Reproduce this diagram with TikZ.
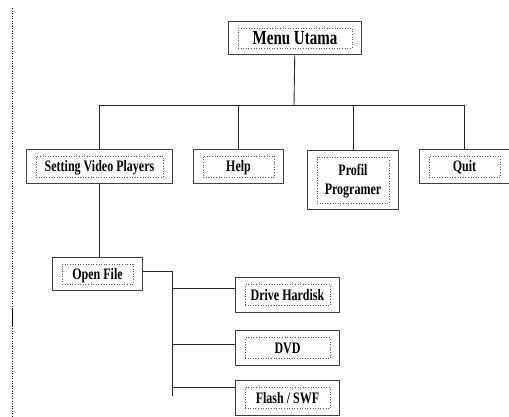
\documentclass[tikz,border=0pt]{standalone}
\usepackage{fontspec}
\setmainfont{Liberation Serif}[FakeStretch=0.75]
\usetikzlibrary{fit}
\begin{document}
\begin{tikzpicture}[x=1pt, y=-1pt, font=\fontsize{16}{19}\selectfont\bfseries, line join=round,
		inbox/.style={draw=black!65, dotted, line width=0.6pt, inner sep=0pt, minimum width=71pt, minimum height=21pt, align=center, text height=11pt, text depth=1pt},
		outbox/.style={draw=black!75, line width=1.1pt, inner xsep=9.5pt, inner ysep=6.5pt},
		link/.style={draw=black!85, line width=0.9pt}]
		\useasboundingbox (0,0) rectangle (509,416);
		\draw[dotted, line width=0.5pt] (12.5,8)--(12.5,416);
		\draw[line width=1.6pt] (12.5,308)--(12.5,326);
		\node[inbox, minimum width=114pt, minimum height=20pt, font=\fontsize{20}{24}\selectfont\bfseries, text height=14pt] (mu) at (295,38) {Menu Utama};
		\node[outbox, fit=(mu)] (mu-o) {};
		\node[inbox, minimum width=127pt] (svp) at (99.5,166.5) {Setting Video Players};
		\node[outbox, fit=(svp)] (svp-o) {};
		\node[inbox] (hlp) at (238.5,166.5) {Help};
		\node[outbox, fit=(hlp)] (hlp-o) {};
		\node[inbox, minimum width=72pt, minimum height=46pt, text height=] (pp) at (353,180) {Profil\\Programer};
		\node[outbox, fit=(pp)] (pp-o) {};
		\node[inbox] (qt) at (464.5,166.5) {Quit};
		\node[outbox, fit=(qt)] (qt-o) {};
		\node[inbox, minimum height=20pt] (of) at (97.5,274) {Open File};
		\node[outbox, fit=(of)] (of-o) {};
		\node[inbox, minimum width=85pt] (dh) at (287.5,295) {Drive Hardisk};
		\node[outbox, fit=(dh)] (dh-o) {};
		\node[inbox, minimum width=85pt] (dvd) at (287.5,348) {DVD};
		\node[outbox, fit=(dvd)] (dvd-o) {};
		\node[inbox, minimum width=85pt] (fl) at (287.5,398) {Flash / SWF};
		\node[outbox, fit=(fl)] (fl-o) {};
		\coordinate (bus) at (294,105);
		\coordinate (sp) at (172,271);
		\coordinate (sp-end) at (172,396);
		\path[link] (mu-o) -- (bus);
		\path[link] (svp-o.north |- bus) -- (qt-o.north |- bus);
		\path[link] (svp-o.north |- bus) -- (svp-o.north);
		\path[link] (hlp-o.north |- bus) -- (hlp-o.north);
		\path[link] (pp-o.north |- bus) -- (pp-o.north);
		\path[link] (qt-o.north |- bus) -- (qt-o.north);
		\path[link] (svp-o.south) -- (of-o.north -| svp-o.south);
		\path[link] (of-o.east |- sp) -- (sp) -- (sp-end);
		\path[link] (sp |- dh-o.west) ++(0,-7) -- ([yshift=7pt]dh-o.west);
		\path[link] (sp |- dvd-o.west) ++(0,-4) -- ([yshift=4pt]dvd-o.west);
		\path[link] (sp |- fl-o.west) ++(0,-11) -- ([yshift=11pt]fl-o.west);
\end{tikzpicture}
\end{document}
